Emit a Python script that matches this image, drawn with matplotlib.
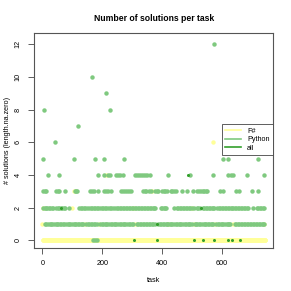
import numpy as np
import matplotlib
matplotlib.use('agg')
import matplotlib.pyplot as plt
from matplotlib.lines import Line2D

# tasks 0..745
n_tasks = 746

# F#: number of solutions per task (0 unless listed)
fs_tasks = [0, 141, 190, 310, 419, 506, 576, 636, 741,
            2, 99, 302, 501,
            104, 368,
            213,
            572]
fs_values = [1, 1, 1, 1, 1, 1, 1, 1, 1,
             2, 2, 2, 2,
             3, 3,
             4,
             6]

# Python: tasks at each solution count
py_0 = [168, 175, 181]
py_1 = [9, 13, 18, 24, 28, 33, 38, 44, 49, 53, 58, 63, 69, 73, 78, 84, 88, 93, 99,
        104, 108, 113, 119, 124, 128, 133, 137,
        146, 151, 157, 162, 166, 171, 177, 182,
        193, 198, 202, 208, 213, 217, 223, 228, 232, 238, 243, 247, 253, 258, 262,
        268, 273, 277, 283, 288, 292, 298, 304,
        316, 320, 326, 331, 335, 341, 346, 350, 356, 361, 365, 371, 376,
        388, 392, 397, 403, 407, 412, 416,
        421, 426, 431, 435, 441, 446, 450, 456, 461, 465, 471, 476, 480, 486, 491, 495, 499,
        509, 513, 518, 524, 528, 533, 539, 543, 548, 554, 558, 563, 568, 572,
        581, 586, 590, 596, 601, 605, 611, 616, 620, 625, 628,
        644, 648, 654, 659, 663, 669, 674, 678, 684, 689, 693, 699, 704, 708, 714,
        719, 723, 729, 734, 738, 741]
py_2 = [3, 7, 12, 17, 21, 26, 31, 36,
        47, 51, 56, 62, 66, 71, 77,
        89,
        123, 128, 133, 138, 143, 149,
        157, 162, 167, 172, 177, 182, 187, 192,
        198, 203, 209, 214,
        221, 226, 231, 237, 242,
        249, 254, 259, 264, 269, 274, 279, 284, 289, 294, 299, 304, 309, 314, 319,
        324, 329, 334, 339, 344, 349, 354, 359, 364, 369, 374, 378,
        395, 400, 405, 410, 414,
        439,
        450, 455, 460, 465, 470, 475, 480, 485, 490, 495, 500, 506,
        516, 521, 526, 536, 541, 546, 551, 556, 561, 566, 571, 574,
        585, 590, 595, 600, 605, 610, 615, 620, 625, 630, 635, 639,
        644, 649, 654, 659, 664, 669, 674, 679, 684, 689,
        703,
        717, 722, 727, 732, 737, 741]
py_3 = [3, 8, 12, 46, 51, 57, 76, 109, 113, 117, 160, 166, 174, 187, 206, 213,
        220, 229, 262, 268, 275, 282, 289, 296, 336, 342, 348, 355, 362, 376, 382,
        388, 399, 405, 411, 416, 429, 435, 441, 447, 466, 485, 505, 518, 524, 530,
        536, 542, 548, 552, 594, 603, 648, 656, 702, 720]
py_4 = [20, 57, 187, 206, 219, 226, 246, 253, 261, 269, 310, 317, 324, 331, 338,
        343, 351, 360, 421, 494, 572, 622, 630, 639, 683, 742]
py_5 = [1, 106, 176, 206, 273, 603, 619, 722]
py_6 = [42]
py_7 = [119]
py_8 = [5, 227]
py_9 = [212]
py_10 = [165]
py_12 = [573]

# all
all_x = [307, 383, 506, 538, 573, 619, 634, 661, 382, 61, 531, 487]
all_y = [0, 0, 0, 0, 0, 0, 0, 0, 1, 2, 2, 4]

col_fs = '#ffff99'
col_py = '#7fc97f'
col_all = '#33a02c'

fsharp = np.zeros(n_tasks)
fsharp[fs_tasks] = fs_values

py_levels = {0: py_0, 1: py_1, 2: py_2, 3: py_3, 4: py_4, 5: py_5, 6: py_6,
             7: py_7, 8: py_8, 9: py_9, 10: py_10, 12: py_12}
py_x = np.concatenate([np.array(v) for v in py_levels.values()])
py_y = np.concatenate([np.full(len(v), k) for k, v in py_levels.items()])

plt.rcParams['font.family'] = ['Liberation Sans', 'DejaVu Sans']

fig = plt.figure(figsize=(2.91, 2.91), dpi=100)
ax = fig.add_axes([0.118, 0.149, 0.821, 0.737])

ms = 3.2
ax.plot(np.arange(n_tasks), fsharp, 'o', color=col_fs, ms=ms, mec='none')
ax.plot(py_x, py_y, 'o', color=col_py, ms=ms, mec='none')
ax.plot(all_x, all_y, 'o', color=col_all, ms=2.2, mec='none')

ax.set_xlim(-27, 772)
ax.set_ylim(-0.44, 12.68)
ax.set_xticks([0, 200, 400, 600])
ax.set_yticks([0, 2, 4, 6, 8, 10, 12])
ax.set_yticklabels(['0', '2', '4', '6', '8', '10', '12'], rotation=90, va='center')
ax.tick_params(direction='out', length=4, width=0.6, labelsize=5.2, pad=5,
               color='#444444')
for s in ax.spines.values():
    s.set_color('#555555')
    s.set_linewidth(0.8)

ax.set_title('Number of solutions per task', fontsize=6.2, fontweight='bold', pad=9)
ax.set_xlabel('task', fontsize=5.2, labelpad=7)
ax.set_ylabel('# solutions (length.na.zero)', fontsize=5.2, labelpad=3)

handles = [Line2D([], [], color=col_fs, lw=1.2),
           Line2D([], [], color=col_py, lw=1.2),
           Line2D([], [], color=col_all, lw=1.2)]
leg = ax.legend(handles, ['F#', 'Python', 'all'], loc='upper right',
                bbox_to_anchor=(1.0, 0.577), fontsize=5.2, fancybox=False,
                framealpha=1, edgecolor='#444444', handlelength=2.2,
                borderpad=0.5, labelspacing=0.2, borderaxespad=0)
leg.get_frame().set_linewidth(0.6)

plt.savefig('out.png', dpi=100)
